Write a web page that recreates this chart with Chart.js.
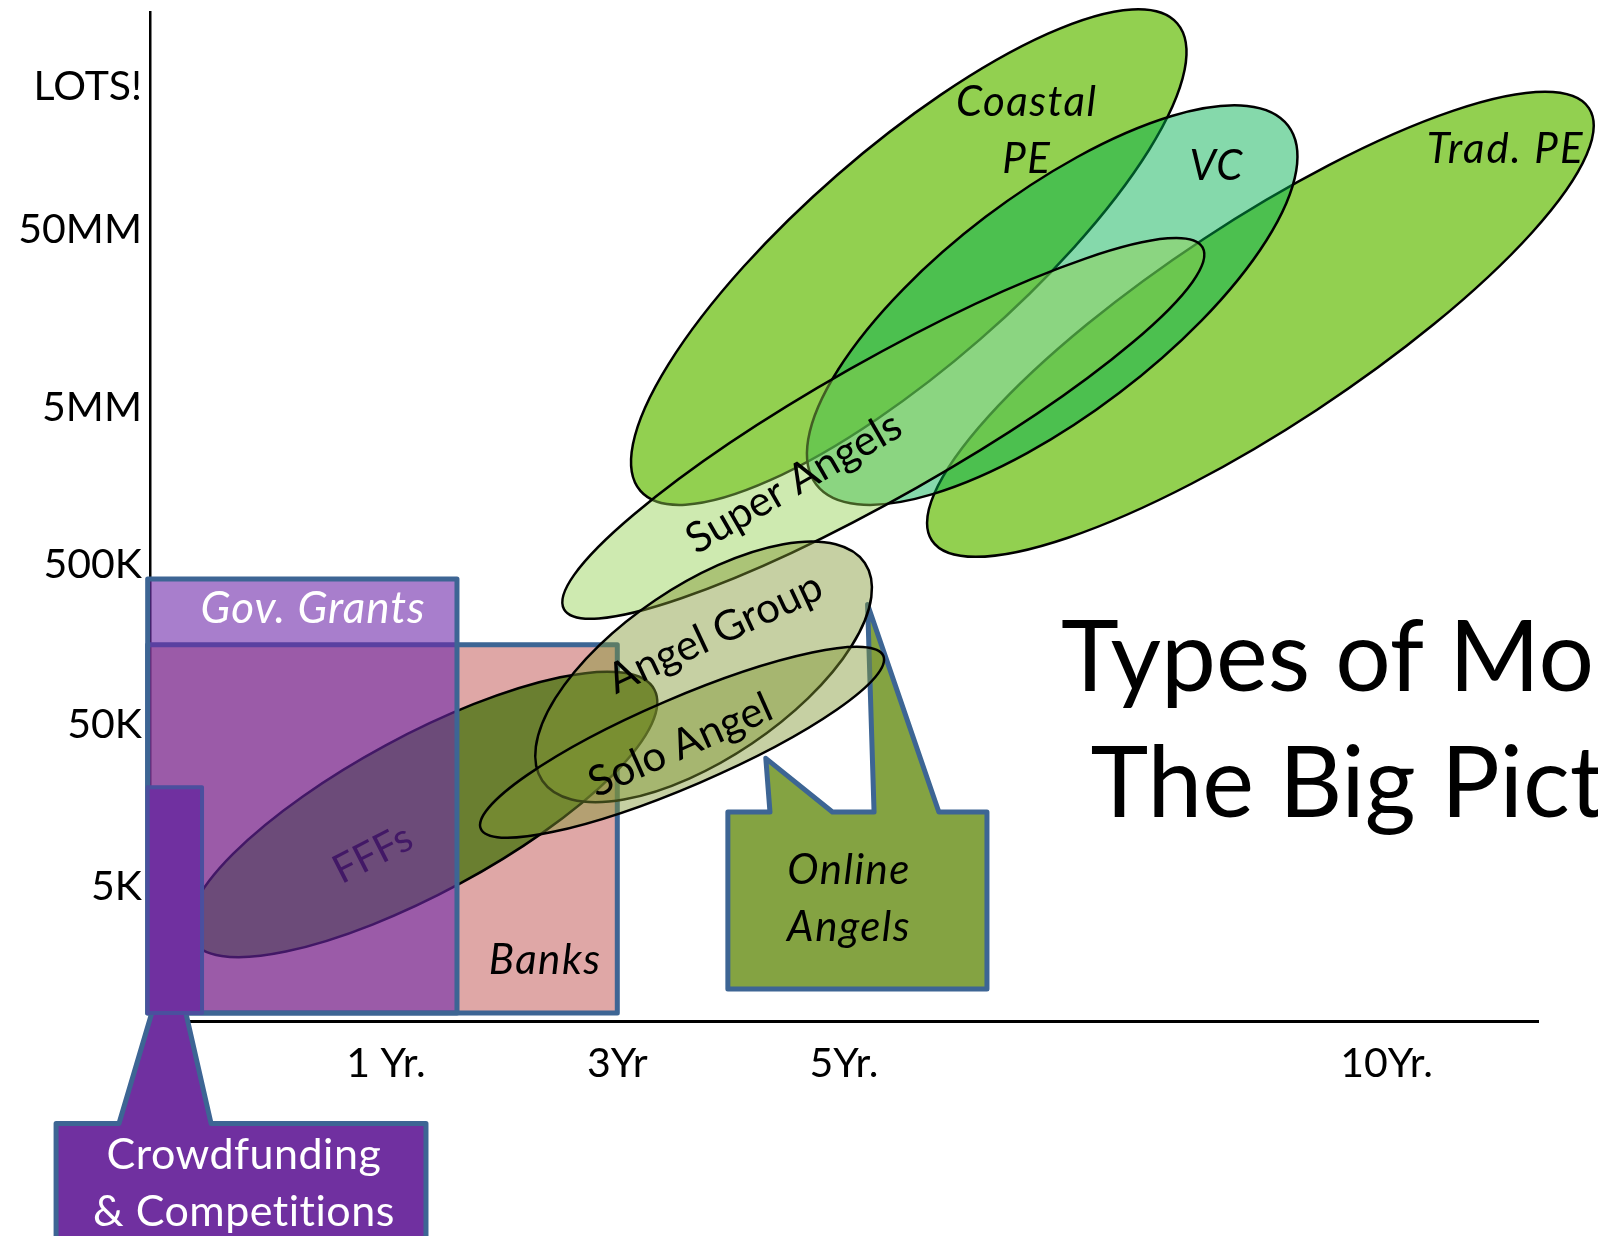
<!DOCTYPE html>
<html>
<head>
<meta charset="utf-8">
<title>Types of Money: The Big Picture</title>
<script src="https://cdn.jsdelivr.net/npm/chart.js@4.4.1/dist/chart.umd.min.js"></script>
<style>
  html, body { margin: 0; padding: 0; background: #fff; }
  #wrap { width: 1598px; height: 1236px; position: relative; }
</style>
</head>
<body>
<div id="wrap"><canvas id="moneyChart"></canvas></div>
<script>
// @ts-check

// axis ticks (x = time to funding, y = amount raised, both in axis units)
const xTickValues = [1.02, 2.02, 3.0, 5.345];
const xTickLabels = ['1 Yr.', '3Yr', '5Yr.', '10Yr.'];
const yTickValues = [0.84, 1.85, 2.85, 3.83, 4.94, 5.83];
const yTickLabels = ['5K', '50K', '500K', '5MM', '50MM', 'LOTS!'];

// boxes: [x from, x to, y from, y to]
const banksBox = [-0.01, 2.02, 0.05, 2.35];
const grantsBox = [-0.01, 1.327, 0.05, 2.76];
const crowdBar = [-0.01, 0.225, 0.05, 1.46];

// callouts: box as above, pointers as [base from x, base to x, tip x, tip y]
const crowdCalloutBox = [-0.406, 1.193, -1.5, -0.64];
const crowdPointers = [[-0.134, 0.264, 0.091, 0.456]];
const onlineCalloutBox = [2.498, 3.618, 0.20, 1.305];
const onlinePointers = [[2.68, 2.95, 2.662, 1.64], [3.13, 3.41, 3.102, 2.60]];

// ellipses: centre, end of the long axis, half width (y units)
const ellipseNames = ['FFFs', 'Trad. PE', 'Coastal PE', 'VC', 'Super Angels', 'Angel Group', 'Solo Angel'];
const ellipseCentres = [[1.18, 1.29], [4.80, 4.35], [3.28, 4.77], [3.90, 4.47], [3.17, 3.70], [2.393, 2.18], [2.30, 1.74]];
const ellipseEnds = [[2.18, 2.07], [6.22, 5.70], [4.44, 6.23], [4.92, 5.59], [4.55, 4.83], [3.09, 2.86], [3.17, 2.28]];
const ellipseHalfWidths = [0.49, 0.64, 0.68, 0.69, 0.425, 0.54, 0.275];

// text labels: lines, anchor (axis units), rotation (degrees)
const labelNames = ['Gov. Grants', 'Banks', 'Online Angels', 'Crowdfunding', 'Coastal PE', 'VC', 'Trad. PE',
  'Super Angels', 'Angel Group', 'Solo Angel', 'Title'];
const labelLines = [['Gov. Grants'], ['Banks'], ['Online', 'Angels'], ['Crowdfunding', '& Competitions'],
  ['Coastal', 'PE'], ['VC'], ['Trad. PE'], ['Super Angels'], ['Angel Group'], ['Solo Angel'],
  ['Types of Money:', 'The Big Picture']];
const labelAnchors = [[0.705, 2.585], [1.708, 0.39], [3.022, 0.77], [0.406, -1.005], [3.79, 5.57], [4.61, 5.345],
  [5.86, 5.45], [2.78, 3.37], [2.44, 2.43], [2.29, 1.73], [5.48, 1.89]];
const labelAngles = [0, 0, 0, 0, 0, 0, 0, -30, -25, -24, 0];
const fffsLabel = { lines: ['FFFs'], anchor: [0.96, 1.05], angle: -27 };

// ---------------------------------------------------------------------------
// styles
// ---------------------------------------------------------------------------
const boxBlue = '#3d6594';
const ellipseStyles = {
  'FFFs': { fill: '#6a7f30', stroke: '#000', lineWidth: 2.5 },
  'Trad. PE': { fill: '#92d050', stroke: '#000', lineWidth: 2.5 },
  'Coastal PE': { fill: '#92d050', stroke: '#000', lineWidth: 2.5 },
  'VC': { fill: 'rgba(0,176,80,0.48)', stroke: '#000', lineWidth: 2.5 },
  'Super Angels': { fill: 'rgba(146,208,80,0.45)', stroke: '#000', lineWidth: 2.5 },
  'Angel Group': { fill: 'rgba(128,151,51,0.45)', stroke: '#000', lineWidth: 2.5 },
  'Solo Angel': { fill: 'rgba(128,151,51,0.45)', stroke: '#000', lineWidth: 2.5 }
};
const labelStyles = {
  'Gov. Grants': { size: 44, italic: true, color: '#fff', spacing: 1 },
  'Banks': { size: 42, italic: true, color: '#000', spacing: 1.5 },
  'Online Angels': { size: 42, italic: true, color: '#000', lineHeight: 57, spacing: 1.5 },
  'Crowdfunding': { size: 43, italic: false, color: '#fff', lineHeight: 57, spacing: 0.5 },
  'Coastal PE': { size: 42, italic: true, color: '#000', lineHeight: 57, spacing: 1.5 },
  'VC': { size: 42, italic: true, color: '#000', spacing: 1 },
  'Trad. PE': { size: 42, italic: true, color: '#000', spacing: 2 },
  'Super Angels': { size: 42, italic: false, color: '#000' },
  'Angel Group': { size: 42, italic: false, color: '#000' },
  'Solo Angel': { size: 42, italic: false, color: '#000' },
  'Title': { size: 98, italic: false, color: '#000', lineHeight: 126 },
  'FFFs': { size: 40, italic: false, color: '#000' }
};

// ---------------------------------------------------------------------------
// build the datasets, in drawing order (later = on top)
// ---------------------------------------------------------------------------
const datasets = [];

function addBox(name, box, style) {
  datasets.push({ label: name, kind: 'box', style: style,
    data: [{ x: box[0], y: box[2] }, { x: box[1], y: box[3] }] });
}

function addCallout(name, box, pointers, style) {
  const data = [{ x: box[0], y: box[2] }, { x: box[1], y: box[3] }];
  pointers.forEach(p => {
    data.push({ x: p[0], y: box[3] }, { x: p[2], y: p[3] }, { x: p[1], y: box[3] });
  });
  datasets.push({ label: name, kind: 'callout', style: style, data: data });
}

function addEllipse(i) {
  const name = ellipseNames[i];
  datasets.push({ label: name, kind: 'ellipse', style: ellipseStyles[name], halfWidth: ellipseHalfWidths[i],
    data: [{ x: ellipseCentres[i][0], y: ellipseCentres[i][1] }, { x: ellipseEnds[i][0], y: ellipseEnds[i][1] }] });
}

function addLabel(name, lines, anchor, angle) {
  datasets.push({ label: name, kind: 'text', style: labelStyles[name], lines: lines, angle: angle,
    data: [{ x: anchor[0], y: anchor[1] }] });
}

addBox('Banks', banksBox, { fill: 'rgba(192,80,77,0.5)', stroke: boxBlue, lineWidth: 5 });
addEllipse(0);
addLabel('FFFs', fffsLabel.lines, fffsLabel.anchor, fffsLabel.angle);
addBox('Gov. Grants', grantsBox, { fill: 'rgba(110,40,170,0.6)', stroke: boxBlue, lineWidth: 5 });
addCallout('Crowdfunding', crowdCalloutBox, crowdPointers, { fill: '#7030a0', stroke: boxBlue, lineWidth: 5 });
addBox('Crowdfunding bar', crowdBar, { fill: '#7030a0', stroke: '#4b4f9e', lineWidth: 4 });
addCallout('Online Angels', onlineCalloutBox, onlinePointers, { fill: '#84a342', stroke: boxBlue, lineWidth: 5 });
for (let i = 1; i < ellipseNames.length; i++) {
  addEllipse(i);
}
labelNames.forEach((name, i) => addLabel(name, labelLines[i], labelAnchors[i], labelAngles[i]));

// ---------------------------------------------------------------------------
// plugin that paints the shapes, positioned through the chart scales
// ---------------------------------------------------------------------------
const shapePlugin = {
  id: 'shapes',
  afterDatasetsDraw(chart) {
    const ctx = chart.ctx;
    const sx = chart.scales.x;
    const sy = chart.scales.y;
    const P = (pt) => [sx.getPixelForValue(pt.x), sy.getPixelForValue(pt.y)];

    chart.data.datasets.forEach(ds => {
      const st = ds.style;
      ctx.save();
      ctx.lineJoin = 'round';
      if (ds.kind === 'box') {
        const [x0, y0] = P(ds.data[0]);
        const [x1, y1] = P(ds.data[1]);
        ctx.beginPath();
        ctx.rect(Math.min(x0, x1), Math.min(y0, y1), Math.abs(x1 - x0), Math.abs(y1 - y0));
        ctx.fillStyle = st.fill;
        ctx.fill();
        ctx.lineWidth = st.lineWidth;
        ctx.strokeStyle = st.stroke;
        ctx.stroke();
      } else if (ds.kind === 'callout') {
        const [x0, yb] = P(ds.data[0]);
        const [x1, yt] = P(ds.data[1]);
        ctx.beginPath();
        ctx.moveTo(x0, yt);
        for (let i = 2; i < ds.data.length; i += 3) {
          const a = P(ds.data[i]);
          const t = P(ds.data[i + 1]);
          const b = P(ds.data[i + 2]);
          ctx.lineTo(a[0], yt);
          ctx.lineTo(t[0], t[1]);
          ctx.lineTo(b[0], yt);
        }
        ctx.lineTo(x1, yt);
        ctx.lineTo(x1, yb);
        ctx.lineTo(x0, yb);
        ctx.closePath();
        ctx.fillStyle = st.fill;
        ctx.fill();
        ctx.lineWidth = st.lineWidth;
        ctx.strokeStyle = st.stroke;
        ctx.stroke();
      } else if (ds.kind === 'ellipse') {
        const [cx, cy] = P(ds.data[0]);
        const [ex, ey] = P(ds.data[1]);
        const a = Math.hypot(ex - cx, ey - cy);
        const b = Math.abs(sy.getPixelForValue(0) - sy.getPixelForValue(ds.halfWidth));
        ctx.beginPath();
        ctx.ellipse(cx, cy, a, b, Math.atan2(ey - cy, ex - cx), 0, Math.PI * 2);
        ctx.fillStyle = st.fill;
        ctx.fill();
        ctx.lineWidth = st.lineWidth;
        ctx.strokeStyle = st.stroke;
        ctx.stroke();
      } else if (ds.kind === 'text') {
        const [x, y] = P(ds.data[0]);
        const cap = st.size * 0.72;
        const lh = st.lineHeight || st.size * 1.2;
        const n = ds.lines.length;
        const top = -((n - 1) * lh + cap) / 2;
        ctx.translate(x, y);
        ctx.rotate(ds.angle * Math.PI / 180);
        ctx.font = (st.italic ? 'italic ' : '') + st.size + 'px Lato';
        if (st.spacing) {
          ctx.letterSpacing = st.spacing + 'px';
        }
        ctx.fillStyle = st.color;
        ctx.textAlign = 'center';
        ctx.textBaseline = 'alphabetic';
        ds.lines.forEach((line, i) => ctx.fillText(line, 0, top + cap + i * lh));
      }
      ctx.restore();
    });
  }
};

// drop the half-label padding chart.js reserves at the ends of an axis
function noEndPadding(axis) {
  axis.paddingTop = 0;
  axis.paddingBottom = 0;
  axis.paddingLeft = 0;
  axis.paddingRight = 0;
}

function createChart() {
  new Chart(document.getElementById('moneyChart'), {
    type: 'scatter',
    data: { datasets: datasets },
    options: {
      responsive: true,
      maintainAspectRatio: false,
      devicePixelRatio: 1,
      animation: false,
      events: [],
      elements: { point: { radius: 0, hoverRadius: 0 } },
      layout: { padding: { top: 12, right: 60, left: 0, bottom: 0 } },
      plugins: {
        legend: { display: false },
        tooltip: { enabled: false },
        title: { display: false }
      },
      scales: {
        x: {
          type: 'linear',
          min: 0,
          max: 6,
          grid: { display: false, drawTicks: false },
          border: { display: true, color: '#000', width: 3 },
          afterBuildTicks: (axis) => { axis.ticks = xTickValues.map(v => ({ value: v })); },
          afterFit: (axis) => { axis.height = 215; noEndPadding(axis); },
          ticks: {
            autoSkip: false,
            maxRotation: 0,
            padding: 18,
            color: '#000',
            font: { family: 'Lato', size: 41 },
            callback: (value, index) => xTickLabels[index]
          }
        },
        y: {
          type: 'linear',
          min: 0,
          max: 6.3,
          grid: { display: false, drawTicks: false },
          border: { display: true, color: '#000', width: 2.5 },
          afterBuildTicks: (axis) => { axis.ticks = yTickValues.map(v => ({ value: v })); },
          afterFit: (axis) => { axis.width = 150; noEndPadding(axis); },
          ticks: {
            autoSkip: false,
            padding: 8,
            color: '#000',
            font: { family: 'Lato', size: 41 },
            callback: (value, index) => yTickLabels[index]
          }
        }
      }
    },
    plugins: [shapePlugin]
  });
}

Promise.all([
  document.fonts.load('41px Lato'),
  document.fonts.load('italic 41px Lato')
]).then(createChart, createChart);
</script>
</body>
</html>
